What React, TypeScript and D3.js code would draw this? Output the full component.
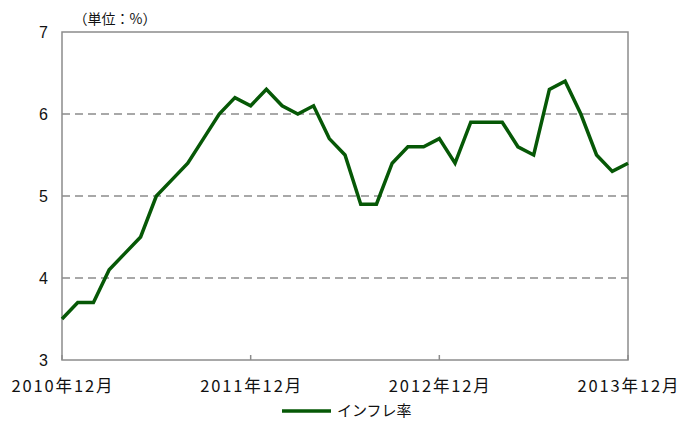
import React from "react";
import * as d3 from "d3";

const months: number[] = d3.range(37);
const inflation: number[] = [
  3.5, 3.7, 3.7, 4.1, 4.3, 4.5, 5.0, 5.2, 5.4, 5.7, 6.0, 6.2, 6.1,
  6.3, 6.1, 6.0, 6.1, 5.7, 5.5, 4.9, 4.9, 5.4, 5.6, 5.6, 5.7, 5.4,
  5.9, 5.9, 5.9, 5.6, 5.5, 6.3, 6.4, 6.0, 5.5, 5.3, 5.4,
];
const xTickIndex: number[] = [0, 12, 24, 36];
const xTickLabels: string[] = ["2010年12月", "2011年12月", "2012年12月", "2013年12月"];
const yTicks: number[] = [3, 4, 5, 6, 7];
const seriesName = "インフレ率";
const unitLabel = "（単位：%）";

export default function App() {
  const W = 681, H = 423;
  const left = 62, right = 628, top = 32, bottom = 360;
  const x = d3.scaleLinear().domain([0, 36]).range([left, right]);
  const y = d3.scaleLinear().domain([3, 7]).range([bottom, top]);
  const line = d3.line<number>().x((_, i) => x(months[i])).y((d) => y(d));
  const font = "'Noto Sans CJK JP', 'Noto Sans', sans-serif";
  const numFont = "'Liberation Sans', 'DejaVu Sans', sans-serif";
  const green = "#065806";
  const grid = "#8c8c8c";
  return (
    <svg width={W} height={H} style={{ position: "absolute", left: 0, top: 0 }} fontFamily={font}>
      <rect width={W} height={H} fill="#fff" />
      {yTicks.filter((t) => t > 3 && t < 7).map((t) => (
        <line key={t} x1={left} x2={right} y1={y(t)} y2={y(t)} stroke={grid} strokeWidth={1.5} strokeDasharray="8,5" />
      ))}
      <rect x={left} y={top} width={right - left} height={bottom - top} fill="none" stroke={grid} strokeWidth={1.5} />
      {xTickIndex.map((i) => (
        <line key={i} x1={x(i)} x2={x(i)} y1={bottom} y2={bottom - 5} stroke={grid} strokeWidth={1.5} />
      ))}
      {yTicks.map((t) => (
        <text key={t} x={48} y={y(t)} dy="0.36em" textAnchor="end" fontSize={16} fontFamily={numFont} fill="#111">{t}</text>
      ))}
      {xTickIndex.map((i, k) => (
        <text key={i} x={x(i)} y={392} textAnchor="middle" fontSize={16.5} textLength={101} lengthAdjust="spacing" fill="#111">{xTickLabels[k]}</text>
      ))}
      <text x={115} y={24} textAnchor="middle" fontSize={14} fill="#111">{unitLabel}</text>
      <path d={line(inflation) || ""} fill="none" stroke={green} strokeWidth={3.5} strokeLinejoin="miter" />
      <line x1={282} x2={331} y1={411} y2={411} stroke={green} strokeWidth={3.5} />
      <text x={337} y={411} dy="0.36em" fontSize={15} fill="#111">{seriesName}</text>
    </svg>
  );
}
